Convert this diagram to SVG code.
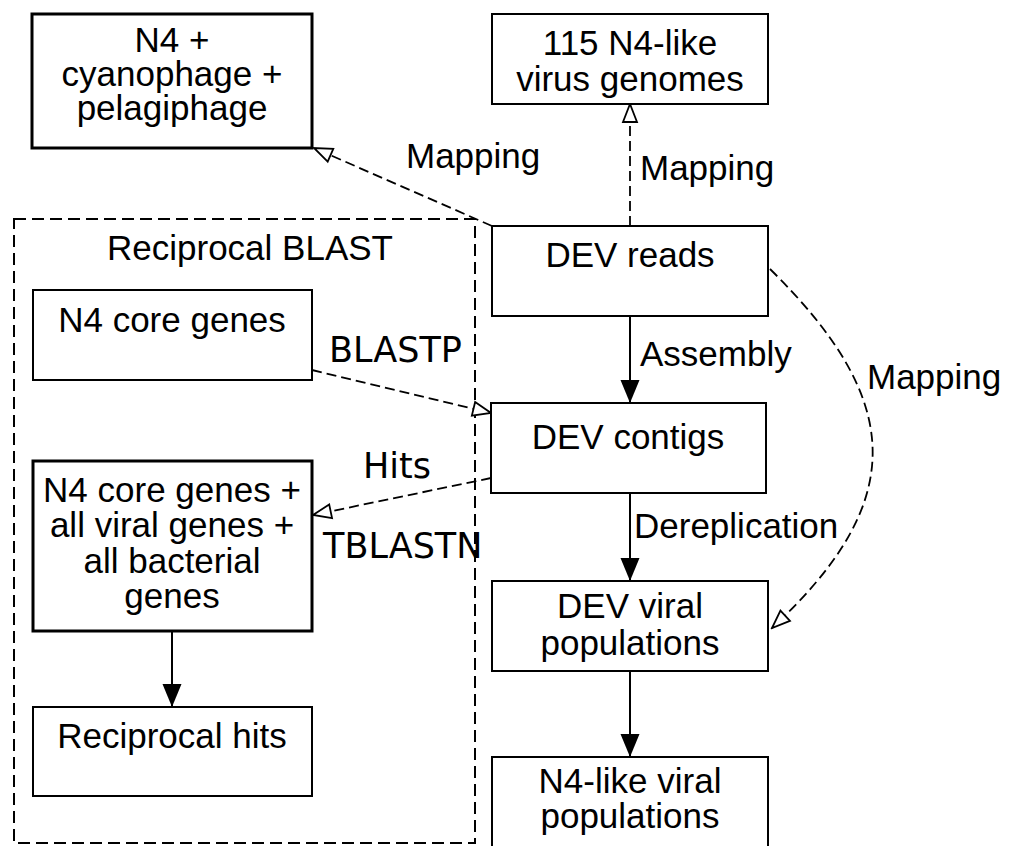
<svg xmlns="http://www.w3.org/2000/svg" width="1011" height="846" viewBox="0 0 1011 846">
<style>
.box{fill:#fff;stroke:#000;stroke-width:2}
.thick{stroke-width:3}
.t{font-family:"Liberation Sans",Arial,sans-serif;font-size:35px;fill:#000}
.d{font-family:"DejaVu Sans",sans-serif;font-size:35px;fill:#000}
.m{text-anchor:middle}
.solid{fill:none;stroke:#000;stroke-width:2}
.dash{fill:none;stroke:#000;stroke-width:1.8;stroke-dasharray:10,5}
.group{fill:none;stroke:#000;stroke-width:2;stroke-dasharray:12,6}
</style>
<defs>
<marker id="open" markerUnits="userSpaceOnUse" markerWidth="22" markerHeight="18" viewBox="0 0 22 18" refX="20" refY="9" orient="auto">
<path d="M2,2 L20,9 L2,16 Z" fill="#fff" stroke="#000" stroke-width="1.8"/>
</marker>
<marker id="fill" markerUnits="userSpaceOnUse" markerWidth="24" markerHeight="20" viewBox="0 0 24 20" refX="23" refY="10" orient="auto">
<path d="M0,0.5 L23,10 L0,19.5 Z" fill="#000"/>
</marker>
</defs>
<rect width="1011" height="846" fill="#fff"/>
<g id="reciprocal-blast">
<rect class="group" x="14" y="219" width="461" height="624"/>
<text class="t m" x="250" y="260">Reciprocal BLAST</text>
</g>
<g id="connectors">
<path class="dash" d="M492,226 L314,148" marker-end="url(#open)"/>
<path class="dash" d="M630,226 L630,104" marker-end="url(#open)"/>
<path class="solid" d="M630,316 L630,403" marker-end="url(#fill)"/>
<path class="solid" d="M630,493 L630,581" marker-end="url(#fill)"/>
<path class="solid" d="M630,671 L630,757" marker-end="url(#fill)"/>
<path class="solid" d="M172,631 L172,707" marker-end="url(#fill)"/>
<path class="dash" d="M312,370 L491,413" marker-end="url(#open)"/>
<path class="dash" d="M491,478 L313,515" marker-end="url(#open)"/>
<path class="dash" d="M770,269 C903,400 910,500 772,628" marker-end="url(#open)"/>
<text class="t" x="406" y="168">Mapping</text>
<text class="t" x="640" y="180">Mapping</text>
<text class="t" x="640" y="366">Assembly</text>
<text class="t" x="867" y="389">Mapping</text>
<text class="t" x="634" y="538">Dereplication</text>
<text class="d" x="329" y="362">BLASTP</text>
<text class="d" x="363" y="478">Hits</text>
<text class="d" x="323" y="558">TBLASTN</text>
</g>
<g id="n4-cyano-pelagi">
<rect class="box thick" x="32" y="14" width="280" height="134"/>
<text class="t m" x="172" y="52">N4 +</text>
<text class="t m" x="172" y="86">cyanophage +</text>
<text class="t m" x="172" y="120">pelagiphage</text>
</g>
<g id="genomes115">
<rect class="box" x="492" y="14" width="276" height="90"/>
<text class="t m" x="630" y="55">115 N4-like</text>
<text class="t m" x="630" y="91">virus genomes</text>
</g>
<g id="dev-reads">
<rect class="box" x="492" y="226" width="276" height="90"/>
<text class="t m" x="630" y="267">DEV reads</text>
</g>
<g id="dev-contigs">
<rect class="box" x="491" y="403" width="275" height="90"/>
<text class="t m" x="628" y="449">DEV contigs</text>
</g>
<g id="dev-viral-pops">
<rect class="box" x="492" y="581" width="276" height="90"/>
<text class="t m" x="630" y="618">DEV viral</text>
<text class="t m" x="630" y="655">populations</text>
</g>
<g id="n4like-viral-pops">
<rect class="box" x="492" y="757" width="276" height="100"/>
<text class="t m" x="630" y="793">N4-like viral</text>
<text class="t m" x="630" y="828">populations</text>
</g>
<g id="n4-core-genes">
<rect class="box" x="33" y="290" width="279" height="90"/>
<text class="t m" x="172" y="332">N4 core genes</text>
</g>
<g id="n4-core-all">
<rect class="box thick" x="33" y="461" width="279" height="170"/>
<text class="t m" x="172" y="502">N4 core genes +</text>
<text class="t m" x="172" y="537">all viral genes +</text>
<text class="t m" x="172" y="573">all bacterial</text>
<text class="t m" x="172" y="608">genes</text>
</g>
<g id="reciprocal-hits">
<rect class="box" x="33" y="707" width="279" height="89"/>
<text class="t m" x="172" y="748">Reciprocal hits</text>
</g>
</svg>
